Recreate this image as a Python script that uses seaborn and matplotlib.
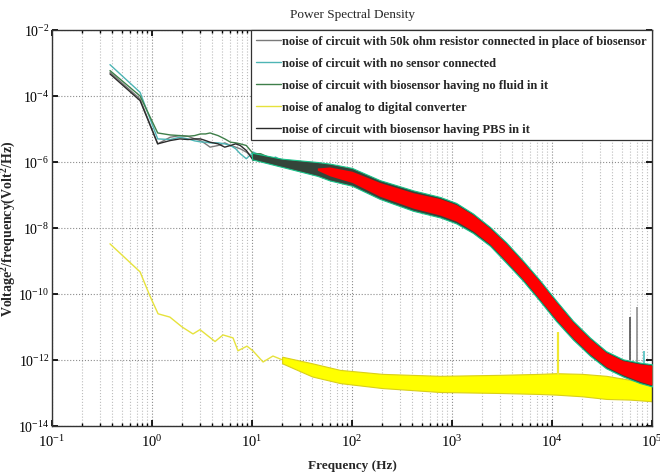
import numpy as np
import pandas as pd
import matplotlib
matplotlib.use('Agg')
import matplotlib.pyplot as plt
import matplotlib.ticker as mticker
import seaborn as sns

# ---- data (values given as log10 of the PSD) ----
# low frequency part, frequency bins of ~0.38 Hz
f_low = [0.38, 0.76, 1.14, 1.52, 1.9, 2.29, 2.67, 3.05, 3.43, 3.81, 4.58,
         5.34, 6.1, 6.87, 7.63, 8.77, 10.3, 12.2, 14.5, 17.2, 20.6]
resistor_exp = [-3.28, -4.09, -5.45, -5.25, -5.2, -5.22, -5.3, -5.35, -5.45, -5.55, -5.5,
                -5.42, -5.5, -5.55, -5.6, -5.7, -5.85, -5.8, -5.9, -6.0, -5.95]
nosensor_exp = [-3.05, -3.89, -5.30, -5.32, -5.25, -5.3, -5.36, -5.39, -5.4, -5.42, -5.42,
                -5.45, -5.5, -5.6, -5.75, -5.9, -5.7, -5.8, -5.95, -5.85, -6.0]
nofluid_exp = [-3.23, -4.0, -5.12, -5.18, -5.2, -5.22, -5.2, -5.15, -5.15, -5.12, -5.2,
               -5.3, -5.4, -5.42, -5.45, -5.5, -5.75, -5.75, -5.85, -5.95, -6.0]
pbs_exp = [-3.33, -4.14, -5.45, -5.35, -5.3, -5.32, -5.3, -5.3, -5.35, -5.4, -5.45,
           -5.55, -5.5, -5.45, -5.5, -5.65, -5.95, -5.8, -5.85, -5.9, -6.05]

# ADC noise, low frequency part
f_adc = [0.38, 0.76, 0.95, 1.15, 1.51, 2.0, 2.57, 3.02, 4.27, 5.13, 6.46, 7.24,
         8.91, 10.2, 12.9, 16.2, 19.9, 30.2, 40.7, 64.6, 89.0]
adc_exp = [-8.48, -9.33, -10.05, -10.6, -10.7, -11.0, -11.21, -11.08, -11.44, -11.24, -11.33, -11.72,
           -11.58, -11.72, -12.06, -11.88, -11.99, -12.17, -12.27, -12.36, -12.42]

# dense noisy spectra above ~10 Hz: outer envelope and red core
band_f = [10, 20, 45, 60, 100, 190, 410, 760, 1100, 1620, 2400, 3470, 5130, 7590,
          11000, 16200, 24000, 34700, 51300, 75900, 100000]
band_hi = [-5.72, -5.9, -6.0, -6.05, -6.18, -6.55, -6.86, -7.06, -7.24, -7.56, -7.97, -8.43, -8.99, -9.59,
           -10.2, -10.81, -11.32, -11.73, -11.98, -12.08, -12.13]
band_lo = [-5.92, -6.15, -6.42, -6.56, -6.72, -7.12, -7.48, -7.68, -7.86, -8.15, -8.54, -9.05, -9.6, -10.22,
           -10.82, -11.38, -11.87, -12.25, -12.5, -12.7, -12.8]
red_f = [45, 60, 100, 190, 410, 760, 1100, 1620, 2400, 3470, 5130, 7590,
         11000, 16200, 24000, 34700, 51300, 75900, 100000]
red_hi = [-6.18, -6.15, -6.28, -6.62, -6.93, -7.11, -7.29, -7.6, -8.01, -8.47, -9.03, -9.63,
          -10.24, -10.85, -11.36, -11.77, -12.02, -12.12, -12.16]
red_lo = [-6.25, -6.42, -6.62, -7.04, -7.4, -7.61, -7.79, -8.09, -8.49, -9.0, -9.55, -10.17,
          -10.77, -11.33, -11.82, -12.2, -12.45, -12.65, -12.76]

# ADC noise band
adc_band_f = [20, 40, 76, 200, 760, 3000, 7600, 11000, 20000, 35000, 60000, 100000]
adc_band_hi = [-11.9, -12.1, -12.3, -12.42, -12.48, -12.45, -12.42, -12.4, -12.42, -12.48, -12.6, -12.75]
adc_band_lo = [-12.1, -12.5, -12.7, -12.85, -12.97, -13.0, -13.03, -13.05, -13.1, -13.18, -13.2, -13.25]

# narrow spikes
spike_f = [60000, 71600, 83000]
spike_top = [-10.7, -10.4, -11.74]
spike_base = [-12.0, -12.05, -12.1]
spike_colors = ['#505050', '#909090', '#50c0c0']
adc_spike_f = [11500]
adc_spike_top = [-11.16]
adc_spike_base = [-12.45]

labels = ['noise of circuit with 50k ohm resistor connected in place of biosensor',
          'noise of circuit with no sensor connected',
          'noise of circuit with biosensor having no fluid in it',
          'noise of analog to digital converter',
          'noise of circuit with biosensor having PBS in it']
colors = ['#7a7a7a', '#4db5b5', '#3f7f4a', '#e6e23c', '#2b2b2b']

sns.set_theme(style='ticks')
plt.rcParams['font.family'] = ['Liberation Serif', 'DejaVu Serif']
plt.rcParams['mathtext.fontset'] = 'custom'
plt.rcParams['mathtext.rm'] = 'Liberation Serif:bold'
plt.rcParams['mathtext.bf'] = 'Liberation Serif:bold'
plt.rcParams['mathtext.it'] = 'Liberation Serif:bold:italic'

fig = plt.figure(figsize=(6.6, 4.77), dpi=100)
ax = fig.add_axes([52 / 660, 50 / 477, 600 / 660, 396 / 477])

series = [(f_low, resistor_exp), (f_low, nosensor_exp), (f_low, nofluid_exp),
          (f_adc, adc_exp), (f_low, pbs_exp)]
for (fx, ex), lab, col in zip(series, labels, colors):
    sns.lineplot(x=fx, y=10.0 ** np.array(ex), ax=ax, color=col, lw=1.0, label=lab)

# yellow ADC band
ax.fill_between(adc_band_f, 10.0 ** np.array(adc_band_lo), 10.0 ** np.array(adc_band_hi),
                color='#ffff00', edgecolor='#d9cf1a', lw=0.8, zorder=2)
ax.vlines(adc_spike_f, 10.0 ** np.array(adc_spike_base), 10.0 ** np.array(adc_spike_top),
          color='#f0e830', lw=1.6, zorder=2)

# dense spectra band
ax.vlines(spike_f, 10.0 ** np.array(spike_base), 10.0 ** np.array(spike_top),
          color=spike_colors, lw=1.2, zorder=3)
ax.fill_between(band_f, 10.0 ** np.array(band_lo), 10.0 ** np.array(band_hi),
                color='#34453a', edgecolor='#18c48a', lw=0.8, zorder=3)
ax.fill_between(red_f, 10.0 ** np.array(red_lo), 10.0 ** np.array(red_hi),
                color='#ff0000', lw=0, zorder=4)

ax.set_xscale('log')
ax.set_yscale('log')
ax.set_xlim(0.1, 1e5)
ax.set_ylim(1e-14, 1e-2)
ax.set_yticks([1e-14, 1e-12, 1e-10, 1e-8, 1e-6, 1e-4, 1e-2])
ax.yaxis.set_minor_locator(mticker.NullLocator())
ax.xaxis.set_major_locator(mticker.LogLocator(base=10, numticks=10))
ax.xaxis.set_minor_locator(mticker.LogLocator(base=10, subs=np.arange(2, 10), numticks=20))
ax.xaxis.set_minor_formatter(mticker.NullFormatter())

ax.grid(which='major', axis='both', ls=':', color='#8c8c8c', lw=0.8)
ax.grid(which='minor', axis='x', ls=':', color='#bdbdbd', lw=0.8)
ax.set_axisbelow(True)
ax.tick_params(which='both', direction='in', top=True, right=True, labelsize=10.5, colors='black')
ax.tick_params(which='major', length=4)
ax.tick_params(which='minor', length=2.5)
ax.tick_params(axis='x', pad=5)
ax.tick_params(axis='y', pad=2, labelsize=10)
for s in ax.spines.values():
    s.set_color('#333333')
    s.set_linewidth(1.0)

ax.set_title('Power Spectral Density', fontsize=9.5, pad=9)
ax.set_xlabel('Frequency (Hz)', fontsize=9.5, fontweight='bold', labelpad=7)
ax.set_ylabel(r'Voltage$^{2}$/frequency(Volt$^{2}$/Hz)', fontsize=10, fontweight='bold')
ax.yaxis.set_label_coords(-0.057, 0.5)

leg = ax.legend(loc='upper right', borderaxespad=0, frameon=True, fancybox=False,
                framealpha=1, edgecolor='#333333', handlelength=2.0, handletextpad=0.1,
                labelspacing=0.8, borderpad=0.4,
                prop={'family': 'Liberation Serif', 'weight': 'bold', 'size': 9})
leg.get_frame().set_linewidth(0.9)
leg.set_zorder(10)

fig.savefig('out.png', dpi=100)
